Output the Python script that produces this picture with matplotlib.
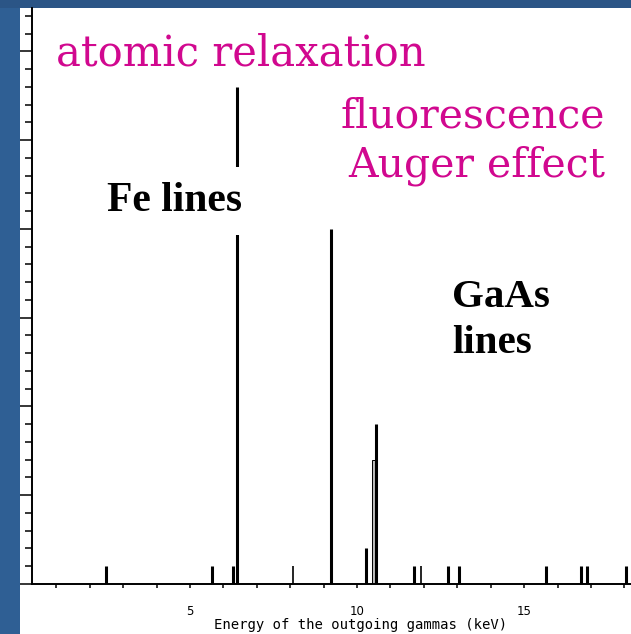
import numpy as np
import matplotlib.pyplot as plt
from matplotlib.patches import Rectangle
from matplotlib.ticker import MultipleLocator, FixedFormatter, FixedLocator

# Line energies (keV) and heights
thick_e = [2.48, 5.65, 6.30, 6.40, 9.22, 10.27, 10.56, 11.69, 12.72, 13.05, 15.66, 16.70, 16.88, 18.05]
thick_h = [1, 1, 1, 28, 20, 2, 9, 1, 1, 1, 1, 1, 1, 1]
thin_e = [8.07, 11.91]
thin_h = [1, 1]
open_e = [10.49]
open_h = [7]

xticks_major = list(range(1, 19))
xtick_labels = {5: "5", 10: "10", 15: "15"}

W, H = 631, 634
fig = plt.figure(figsize=(W / 100, H / 100), dpi=100)
fig.patch.set_facecolor("#2f5f94")
fig.add_artist(Rectangle((0, 1 - 8 / H), 1, 8 / H, transform=fig.transFigure,
                         facecolor="#2b5586", edgecolor="none", zorder=0))
fig.add_artist(Rectangle((20 / W, 0), 1, 1 - 8 / H, transform=fig.transFigure,
                         facecolor="white", edgecolor="none", zorder=0))

ax = fig.add_axes([32 / W, 50 / H, (W - 32) / W, (584 - 8) / H])
ax.patch.set_alpha(0)

ax.vlines(thick_e, 0, thick_h, color="black", linewidth=2.2, zorder=2)
ax.vlines(thin_e, 0, thin_h, color="black", linewidth=1.2, zorder=2)
ax.bar(open_e, open_h, width=0.07, facecolor="#bdbdbd", edgecolor="black",
       linewidth=0.7, zorder=1)

ax.set_xlim(0.27, 18.2)
ax.set_ylim(0, 32.45)

for s in ["top", "right"]:
    ax.spines[s].set_visible(False)
for s in ["left", "bottom"]:
    ax.spines[s].set_linewidth(1.4)

ax.yaxis.set_major_locator(MultipleLocator(5))
ax.yaxis.set_minor_locator(MultipleLocator(1))
ax.tick_params(axis="y", which="major", direction="out", length=8.6, width=1.1, labelleft=False)
ax.tick_params(axis="y", which="minor", direction="out", length=5, width=1.1)

ax.xaxis.set_major_locator(FixedLocator(xticks_major))
ax.xaxis.set_major_formatter(FixedFormatter([xtick_labels.get(t, "") for t in xticks_major]))
ax.tick_params(axis="x", which="major", direction="out", length=3, width=1.1,
               pad=12, labelsize=8.5)
for lab in ax.get_xticklabels():
    lab.set_family("DejaVu Sans")


def fx(px):
    return px / W


def fy(py):
    return 1 - py / H


fig.text(fx(361), fy(629), "Energy of the outgoing gammas (keV)", ha="center",
         va="baseline", fontsize=10, family="DejaVu Sans Mono", color="black")

magenta = "#d1088f"
fig.text(fx(56), fy(65), "atomic relaxation", ha="left", va="baseline",
         fontsize=30, family="DejaVu Serif", color=magenta)
fig.text(fx(605), fy(127), "fluorescence", ha="right", va="baseline",
         fontsize=29.5, family="DejaVu Serif", color=magenta)
fig.text(fx(605), fy(177), "Auger effect", ha="right", va="baseline",
         fontsize=29.5, family="DejaVu Serif", color=magenta)

fig.text(fx(107), fy(211), "Fe lines", ha="left", va="baseline", fontsize=30,
         family="Liberation Serif", fontweight="bold", color="black", zorder=5,
         bbox=dict(facecolor="white", edgecolor="none", boxstyle="square,pad=0.36"))
fig.text(fx(452), fy(307), "GaAs", ha="left", va="baseline", fontsize=29.5,
         family="Liberation Serif", fontweight="bold", color="black")
fig.text(fx(452), fy(353), "lines", ha="left", va="baseline", fontsize=29.5,
         family="Liberation Serif", fontweight="bold", color="black")

fig.savefig("out.png", dpi=100, facecolor=fig.get_facecolor())
